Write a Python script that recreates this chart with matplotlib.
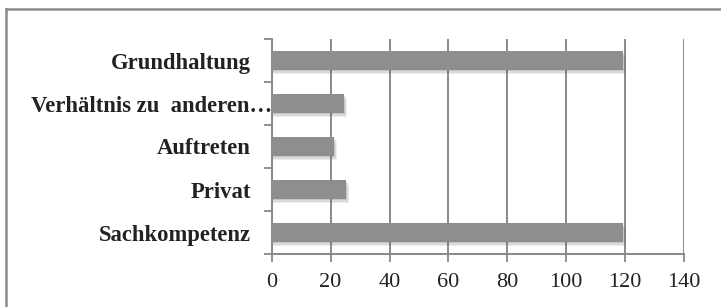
import matplotlib
matplotlib.use("Agg")
import matplotlib.pyplot as plt
from matplotlib.lines import Line2D
import matplotlib.transforms as mtransforms
import numpy as np

categories = ["Sachkompetenz", "Privat", "Auftreten", "Verhältnis zu  anderen…", "Grundhaltung"]
values = [119.3, 25.2, 21.2, 24.5, 119.3]
xticks = [0, 20, 40, 60, 80, 100, 120, 140]

W, H = 721, 307
fig = plt.figure(figsize=(W / 100, H / 100), dpi=100)
fig.patch.set_facecolor("white")

left, right, top, bottom = 271.7, 684.0, 39.0, 254.0
ax = fig.add_axes([left / W, 1 - bottom / H, (right - left) / W, (bottom - top) / H])

serif = ["Liberation Serif", "DejaVu Serif"]
y = np.arange(len(categories))
bar_h = 0.42
bar_color = "#8e8e90"

# soft shadow
for dx, dy, a in [(0.9, -0.10, 0.10), (0.6, -0.07, 0.12), (0.3, -0.04, 0.15)]:
    ax.barh(y + dy, [v + dx for v in values], height=bar_h, color="#555555",
            alpha=a, zorder=2, linewidth=0)
ax.barh(y, values, height=bar_h, color=bar_color, zorder=3, linewidth=0)

ax.set_xlim(0, 140)
ax.set_ylim(-0.5, len(categories) - 0.5)
ax.set_xticks(xticks)
ax.set_xticklabels([str(t) for t in xticks], fontfamily=serif, fontsize=16, color="#222222")
ax.set_yticks(y)
ylabels = ax.set_yticklabels(categories, fontfamily=serif, fontsize=16.3, fontweight="bold", color="#222222")
ax.set_yticks(np.arange(len(categories) + 1) - 0.5, minor=True)
ax.tick_params(axis="y", which="major", length=0, pad=15)
ax.tick_params(axis="y", which="minor", length=6, width=1.3, color="#888888", direction="out")
ax.tick_params(axis="x", length=6, width=1.3, color="#888888", direction="out", pad=8)

# the truncated long label reaches up to the axis line
for lab in ylabels:
    if lab.get_text().endswith("…"):
        lab.set_transform(lab.get_transform() + mtransforms.ScaledTranslation(21 / 100, 0, fig.dpi_scale_trans))

ax.grid(axis="x", color="#8a8a8a", linewidth=1.4, zorder=1)
ax.set_axisbelow(True)
for s in ["top", "right"]:
    ax.spines[s].set_visible(False)
for s in ["left", "bottom"]:
    ax.spines[s].set_color("#888888")
    ax.spines[s].set_linewidth(1.4)

# outer frame (extends beyond image at right and bottom)
fx0, fy0 = 5.5 / W, 1 - 9 / H
fig.add_artist(Line2D([fx0, 1.0], [fy0, fy0], transform=fig.transFigure, color="#8a8a8a", linewidth=1.8))
fig.add_artist(Line2D([fx0, fx0], [fy0, 0.0], transform=fig.transFigure, color="#8a8a8a", linewidth=1.8))

fig.savefig("out.png", dpi=100, facecolor="white")
